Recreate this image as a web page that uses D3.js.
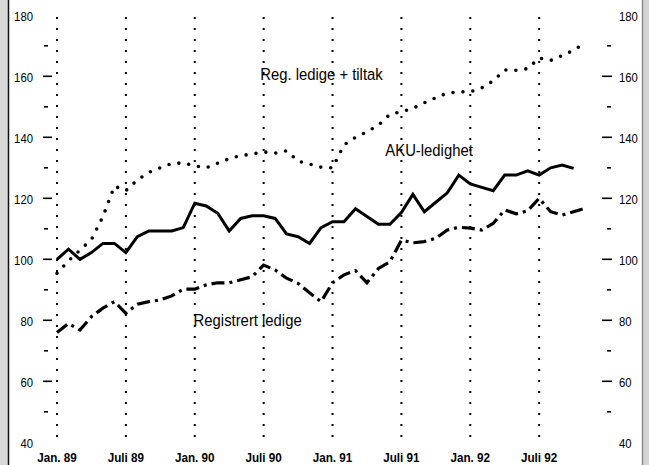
<!DOCTYPE html>
<html>
<head>
<meta charset="utf-8">
<script src="https://cdn.jsdelivr.net/npm/d3@7"></script>
<style>
  html, body { margin: 0; padding: 0; background: #fff; }
  svg { display: block; }
</style>
</head>
<body>
<script>
// monthly index, 0 = Jan. 89
const tickLabels = ["Jan. 89", "Juli 89", "Jan. 90", "Juli 90", "Jan. 91", "Juli 91", "Jan. 92", "Juli 92"];
const tickMonths = [0, 6, 12, 18, 24, 30, 36, 42];
const yLabels = [40, 60, 80, 100, 120, 140, 160, 180];
const yMajor = [60, 80, 100, 120, 140, 160];
const yMinor = [50, 70, 90, 110, 130, 150, 170];

// AKU-ledighet (solid), Jan 89 - Okt 92
const aku = [100, 103.3, 100, 102.2, 105.2, 105.2, 102.2, 107.4, 109.3, 109.3, 109.3, 110.4,
  118.4, 117.5, 115.1, 109.3, 113.4, 114.3, 114.3, 113.4, 108.3, 107.4, 105.2, 110.4,
  112.3, 112.3, 116.6, 114.0, 111.5, 111.5, 115.3, 121.3, 115.6, 118.7, 121.8, 127.6,
  124.7, 123.6, 122.5, 127.6, 127.6, 129.0, 127.6, 130.0, 130.9, 129.8];

// Registrert ledige (dash-dot), Jan 89 - Nov 92
const registrert = [76, 79.0, 76.8, 81.2, 84, 86.1, 82.3, 85.3, 86.1, 86.7, 88.0, 90.2,
  90.2, 91.6, 92.3, 92.3, 93.3, 94.3, 98.1, 96.5, 93.8, 92.1, 89.0, 86.1,
  92.3, 94.9, 96.3, 92.3, 97.0, 99.2, 106.3, 105.4, 105.8, 106.9, 109.6, 110.5,
  110.2, 109.6, 111.8, 116.2, 114.9, 115.9, 120.0, 115.6, 114.5, 115.6, 116.7];

// Reg. ledige + tiltak (dotted), Jan 89 - Nov 92
const tiltak = [95.4, 99.5, 103, 106.5, 114, 124, 122.5, 126, 128.5, 130, 131.4, 131.6,
  130.6, 130, 131.5, 133, 134, 134.5, 135.2, 134.8, 135.6, 132.2, 131.2, 130.2,
  130, 137.5, 140, 141.8, 144, 147.5, 148.4, 149.5, 151.3, 153, 154.5, 154.9,
  154.9, 156.2, 158.5, 162.1, 162, 162.5, 166, 165.2, 166.8, 168.5, 171];

const W = 649, H = 465;
const font = "'Liberation Sans', Arial, sans-serif";

const svg = d3.select("body").append("svg")
  .attr("width", W).attr("height", H)
  .style("font-family", font);

const x = d3.scaleLinear().domain([0, 46]).range([57, 57 + 46 * 11.48]);
const y = d3.scaleLinear().domain([40, 180]).range([442.3, 15.3]);

// frame: grey dither at the edges
svg.append("rect").attr("x", 0).attr("y", 0).attr("width", 8).attr("height", H).attr("fill", "#d8d8d8");
svg.append("line").attr("x1", 8.5).attr("x2", 8.5).attr("y1", 0).attr("y2", H)
  .attr("stroke", "#111").attr("stroke-width", 1.5);
svg.append("rect").attr("x", 642).attr("y", 0).attr("width", 7).attr("height", H).attr("fill", "#d4d4d4");
svg.append("line").attr("x1", 642.5).attr("x2", 642.5).attr("y1", 0).attr("y2", H)
  .attr("stroke", "#888").attr("stroke-width", 1.5);

// vertical dotted grid lines
svg.append("g").selectAll("line").data(tickMonths).join("line")
  .attr("x1", d => x(d)).attr("x2", d => x(d))
  .attr("y1", 17).attr("y2", 444)
  .attr("stroke", "#000").attr("stroke-width", 2)
  .attr("stroke-dasharray", "2,9");

// y axes: labels (narrowed to mimic condensed Helvetica)
const leftAxis = d3.axisLeft(y).tickValues(yLabels).tickSize(0).tickPadding(0);
const gl = svg.append("g").attr("transform", "translate(33,1)").call(leftAxis);
const rightAxis = d3.axisRight(y).tickValues(yLabels).tickSize(0).tickPadding(0);
const gr = svg.append("g").attr("transform", "translate(619,1)").call(rightAxis);
[gl, gr].forEach(g => {
  g.select(".domain").remove();
  g.selectAll("text").attr("font-size", 13.5).attr("font-family", font).attr("fill", "#000")
    .attr("x", 0).attr("transform", "scale(0.84,1)");
});

// tick marks
svg.append("g").selectAll("line").data(yMajor).join("line")
  .attr("x1", 43).attr("x2", 52).attr("y1", d => y(d)).attr("y2", d => y(d))
  .attr("stroke", "#000").attr("stroke-width", 1.6);
svg.append("g").selectAll("line").data(yMinor).join("line")
  .attr("x1", 44).attr("x2", 48).attr("y1", d => y(d)).attr("y2", d => y(d))
  .attr("stroke", "#000").attr("stroke-width", 1.6);
svg.append("g").selectAll("line").data(yMajor).join("line")
  .attr("x1", 602).attr("x2", 612).attr("y1", d => y(d)).attr("y2", d => y(d))
  .attr("stroke", "#000").attr("stroke-width", 1.6);
svg.append("g").selectAll("line").data(yMinor).join("line")
  .attr("x1", 607).attr("x2", 611).attr("y1", d => y(d)).attr("y2", d => y(d))
  .attr("stroke", "#000").attr("stroke-width", 1.6);

// x labels
svg.append("g").selectAll("text").data(tickMonths).join("text")
  .attr("transform", d => `translate(${x(d)},462) scale(0.9,1)`)
  .attr("text-anchor", "middle")
  .attr("font-size", 13).attr("font-weight", "bold")
  .text((d, i) => tickLabels[i]);

// series
const line = d3.line().x((d, i) => x(i)).y(d => y(d));

svg.append("path").datum(tiltak)
  .attr("d", line).attr("fill", "none")
  .attr("stroke", "#000").attr("stroke-width", 3.6)
  .attr("stroke-linecap", "round").attr("stroke-dasharray", "0,10");

svg.append("path").datum(aku)
  .attr("d", line).attr("fill", "none")
  .attr("stroke", "#000").attr("stroke-width", 3)
  .attr("stroke-linejoin", "miter");

svg.append("path").datum(registrert)
  .attr("d", line).attr("fill", "none")
  .attr("stroke", "#000").attr("stroke-width", 3.2)
  .attr("stroke-dasharray", "13,5,3,5");

// series labels
const labels = [
  { text: "Reg. ledige + tiltak", m: 17.7, v: 158.8 },
  { text: "AKU-ledighet", m: 28.6, v: 133.8 },
  { text: "Registrert ledige", m: 11.9, v: 78.2 }
];
svg.append("g").selectAll("text").data(labels).join("text")
  .attr("transform", d => `translate(${x(d.m)},${y(d.v)}) scale(0.9,1)`)
  .attr("font-size", 16.5).attr("fill", "#000")
  .text(d => d.text);
</script>
</body>
</html>
